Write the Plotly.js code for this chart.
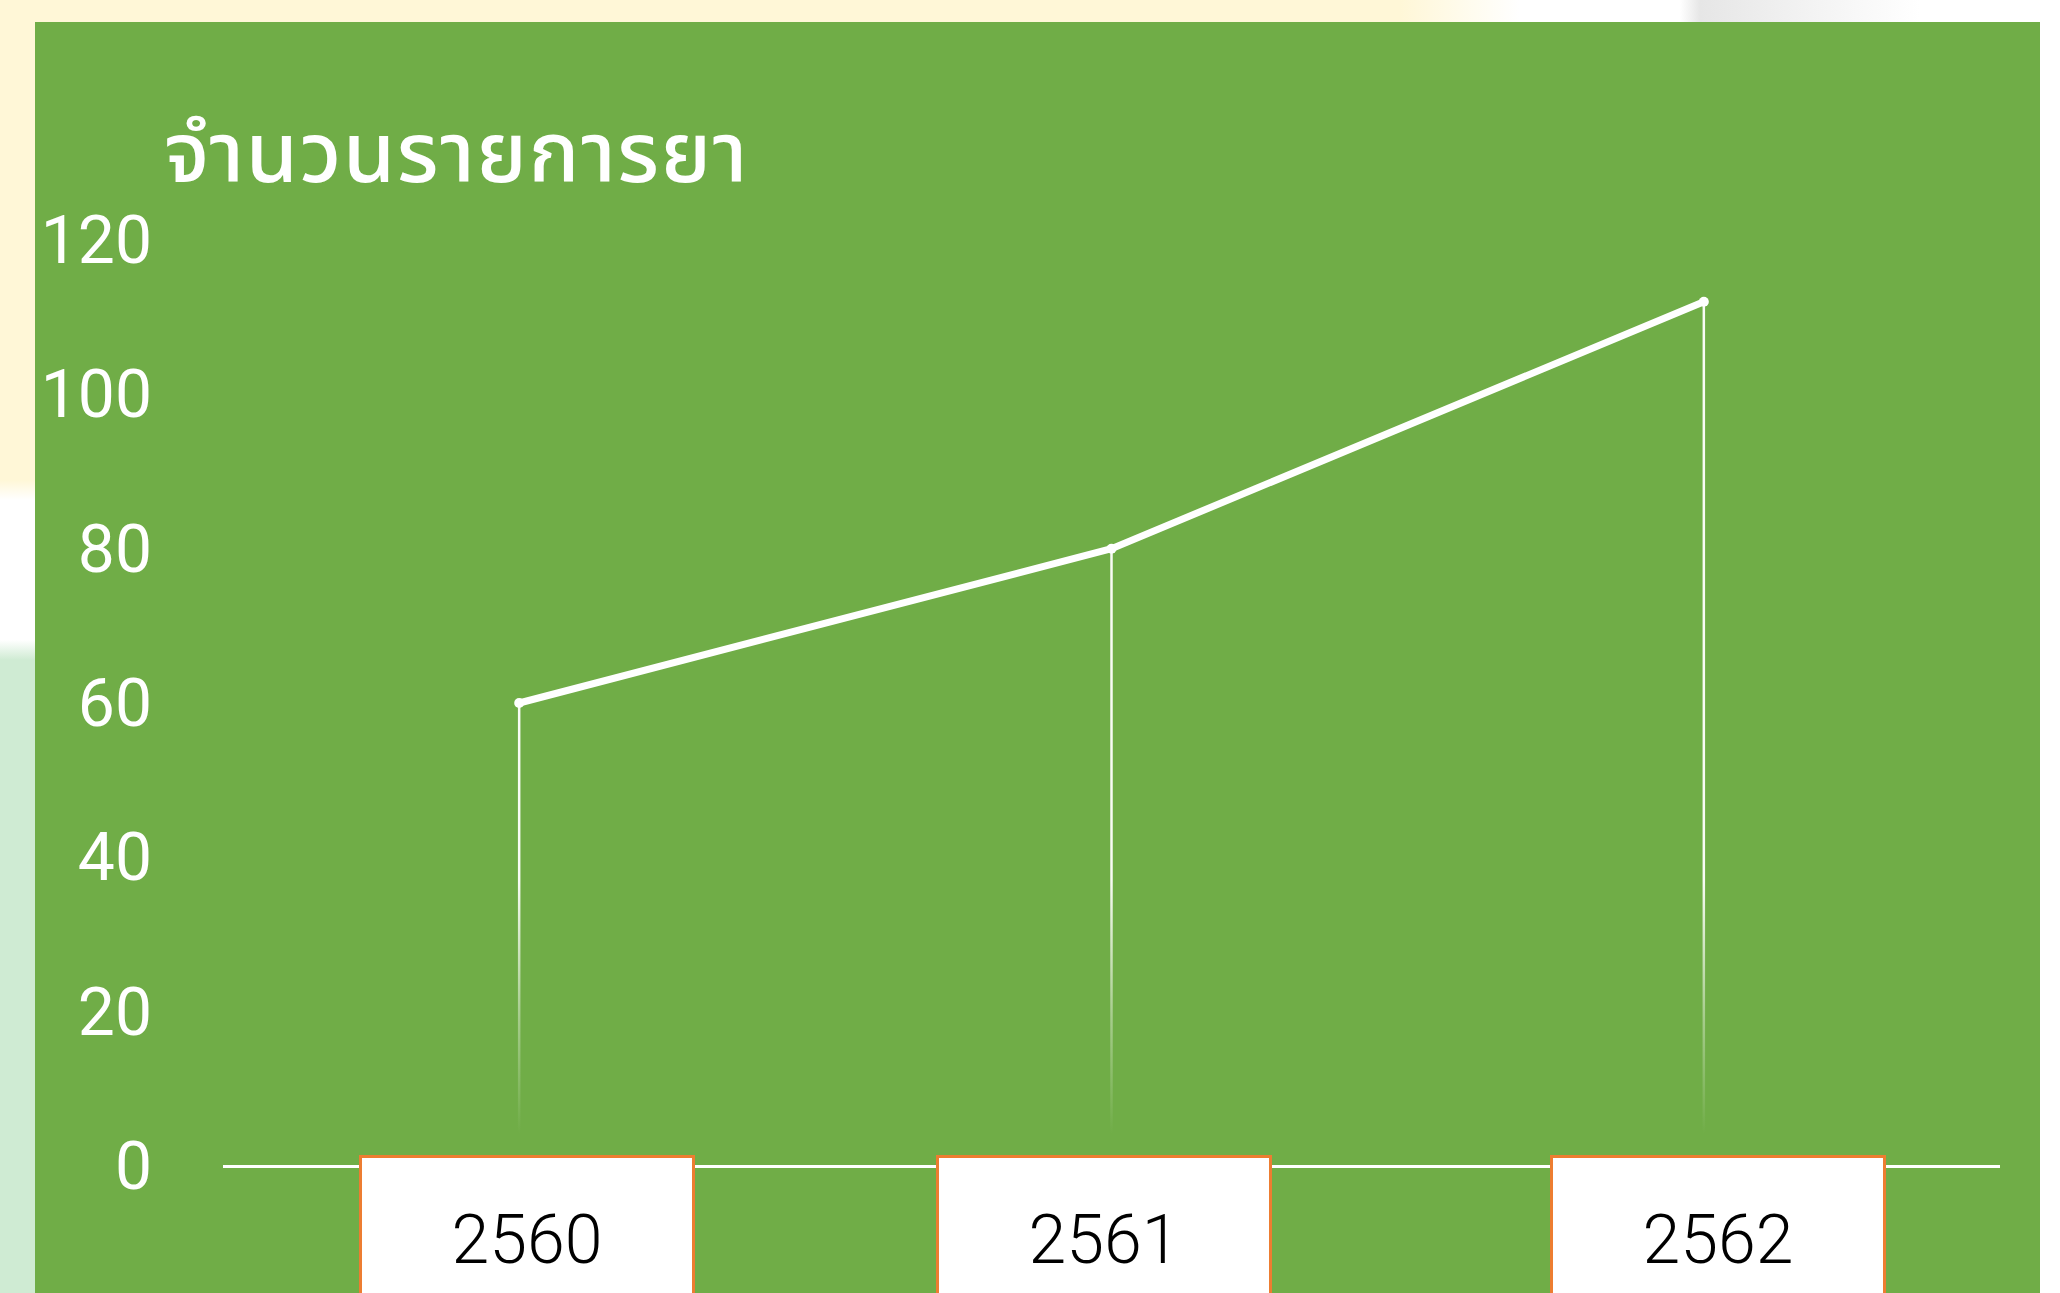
<!DOCTYPE html>
<html>
<head>
<meta charset="utf-8">
<script src="https://cdn.plot.ly/plotly-3.0.1.min.js"></script>
<style>
  html, body { margin: 0; padding: 0; width: 2060px; height: 1293px; overflow: hidden; }
  #bg {
    position: absolute; left: 0; top: 0; width: 2060px; height: 1293px;
    background: linear-gradient(to bottom, #FFF7D7 0px, #FFF7D7 480px, #FFFFFF 500px, #FFFFFF 640px, #CFEBD3 660px, #CFEBD3 1293px);
  }
  #bgtop {
    position: absolute; left: 1400px; top: 0; width: 660px; height: 30px;
    background: linear-gradient(to right, #FFF7D7 0px, #FFFFFF 120px, #FFFFFF 280px, #E6E6E6 300px, #F4F4F4 420px, #FFFFFF 520px);
  }
  #bgright { position: absolute; left: 2030px; top: 0; width: 30px; height: 1293px; background: #FFFFFF; }
  #panel { position: absolute; left: 35px; top: 22px; width: 2005px; height: 1271px; background: #70AD47; }
  #chart { position: absolute; left: 0; top: 0; width: 2060px; height: 1293px; }
  #fade {
    position: absolute; left: 300px; top: 880px; width: 1600px; height: 275px; pointer-events: none;
    background: linear-gradient(to bottom, rgba(112,173,71,0) 0%, rgba(112,173,71,0.6) 50%, rgba(112,173,71,1) 92%, rgba(112,173,71,1) 100%);
  }
  .gtitle { letter-spacing: 1.5px; }
</style>
</head>
<body>
<div id="bg"></div>
<div id="bgtop"></div>
<div id="bgright"></div>
<div id="panel"></div>
<div id="chart"></div>
<div id="fade"></div>
<script>
const years = ['2560', '2561', '2562'];
const drugCounts = [60, 80, 112];
const yTicks = [0, 20, 40, 60, 80, 100, 120];
const titleText = 'จำนวนรายการยา';

const thaiFont = '"Noto Sans Thai", Tahoma, "Leelawadee UI", "Noto Sans", "DejaVu Sans", sans-serif';

const lineTrace = {
  type: 'scatter',
  mode: 'lines+markers',
  x: years,
  y: drugCounts,
  line: { color: '#FFFFFF', width: 7 },
  marker: { color: '#FFFFFF', size: 10 },
  error_y: {
    type: 'data',
    symmetric: false,
    array: drugCounts.map(() => 0),
    arrayminus: drugCounts,
    color: 'rgba(255,255,255,0.95)',
    thickness: 2.5,
    width: 0
  },
  hoverinfo: 'x+y',
  showlegend: false,
  cliponaxis: false
};

const boxShift = [8, -8, 14];
const annotations = years.map((yr, i) => ({
  x: i, y: 0, xref: 'x', yref: 'paper',
  text: yr,
  showarrow: false,
  xanchor: 'center', yanchor: 'top',
  yshift: 11, xshift: boxShift[i],
  width: 330, height: 164,
  valign: 'middle', align: 'center',
  bgcolor: '#FFFFFF', bordercolor: '#ED7D31', borderwidth: 3, borderpad: 0,
  font: { family: 'Roboto, "Open Sans", sans-serif', size: 68, color: '#000000', weight: 300 }
}));

const layout = {
  width: 2060, height: 1293,
  paper_bgcolor: 'rgba(0,0,0,0)',
  plot_bgcolor: 'rgba(0,0,0,0)',
  margin: { l: 223, r: 60, t: 240, b: 127, pad: 0 },
  title: {
    text: titleText,
    xref: 'container', yref: 'container',
    x: 164 / 2060, xanchor: 'left',
    y: 1 - 153 / 1293, yanchor: 'middle',
    font: { family: thaiFont, size: 84, color: '#FFFFFF', weight: 500 }
  },
  xaxis: {
    type: 'category',
    range: [-0.5, 2.5],
    showgrid: false, zeroline: false, showline: false,
    showticklabels: false, ticks: '', fixedrange: true
  },
  yaxis: {
    range: [0, 120],
    tickvals: yTicks,
    ticktext: yTicks.map(String),
    showgrid: false,
    zeroline: true, zerolinecolor: '#FFFFFF', zerolinewidth: 3,
    showline: false, ticks: '',
    ticklabelstandoff: 70,
    tickfont: { family: 'Roboto, "Open Sans", sans-serif', size: 66, color: '#FFFFFF' },
    fixedrange: true
  },
  annotations: annotations,
  showlegend: false
};

Plotly.newPlot('chart', [lineTrace], layout, { displayModeBar: false, staticPlot: true });
</script>
</body>
</html>
